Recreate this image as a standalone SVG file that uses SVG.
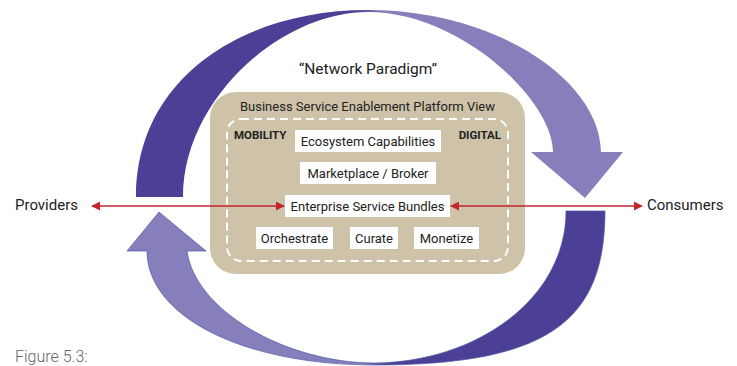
<svg xmlns="http://www.w3.org/2000/svg" width="737" height="366" viewBox="0 0 737 366">
  <defs>
    <linearGradient id="gTop" gradientUnits="userSpaceOnUse" x1="355" y1="0" x2="385" y2="0">
      <stop offset="0" stop-color="#4b3f96"/>
      <stop offset="1" stop-color="#867fbb"/>
    </linearGradient>
    <linearGradient id="gBot" gradientUnits="userSpaceOnUse" x1="362" y1="0" x2="392" y2="0">
      <stop offset="0" stop-color="#867fbb"/>
      <stop offset="1" stop-color="#4b3f96"/>
    </linearGradient>
    <marker id="ah" viewBox="0 0 10 10" refX="9" refY="5" markerWidth="9" markerHeight="9" markerUnits="userSpaceOnUse" orient="auto-start-reverse">
      <path d="M0,0 L10,5 L0,10 Z" fill="#c1272d"/>
    </marker>
    <style>
      text { font-family: Roboto, "Liberation Sans", Arial, sans-serif; fill: #222; }
      .box { fill: #ffffff; }
      .lbl { font-size: 13px; text-anchor: middle; }
      .side { font-size: 15px; }
      .cap { font-size: 11.5px; font-weight: bold; }
      .conn { stroke: #c1272d; stroke-width: 1.3; fill: none; }
    </style>
  </defs>

  <g id="cycle-arrows">
    <path id="top-arrow" fill="url(#gTop)" d="M136,197 C136,80 240,10 368,10 C496,10 600,80 601,152 L623,152 L585,198 L531,152 L553,152 C553,100 460,12 368,12 C280,12 183,100 183,197 Z"/>
    <path id="bottom-arrow" fill="url(#gBot)" stroke="#4a5aa6" stroke-width="0.7" d="M605,211 C605,320 550,365 375,365 C240,365 147,315 147,251 L127,251 L159,212 L206,251 L187,251 C195,310 285,363 375,363 C475,362 566,300 566,211 Z"/>
  </g>

  <text id="paradigm" x="368" y="74" font-size="15.5" text-anchor="middle">“Network Paradigm”</text>

  <g id="platform">
    <rect x="210" y="92" width="315" height="182" rx="26" fill="#cec2a8"/>
    <rect x="227" y="119" width="281" height="142" rx="14" fill="none" stroke="#ffffff" stroke-width="2" stroke-dasharray="8 5"/>
    <text class="lbl" x="367.5" y="111">Business Service Enablement Platform View</text>
    <text class="cap" x="234" y="139">MOBILITY</text>
    <text class="cap" x="501" y="139" text-anchor="end">DIGITAL</text>
  </g>

  <g id="ecosystem">
    <rect class="box" x="295" y="130" width="146" height="22"/>
    <text class="lbl" x="368" y="146">Ecosystem Capabilities</text>
  </g>
  <g id="marketplace">
    <rect class="box" x="300" y="162" width="136" height="22"/>
    <text class="lbl" x="368" y="178">Marketplace / Broker</text>
  </g>
  <g id="bundles">
    <rect class="box" x="285" y="195" width="165" height="22"/>
    <text class="lbl" x="367.5" y="211">Enterprise Service Bundles</text>
  </g>
  <g id="orchestrate">
    <rect class="box" x="256" y="227" width="77" height="22"/>
    <text class="lbl" x="294.5" y="243">Orchestrate</text>
  </g>
  <g id="curate">
    <rect class="box" x="350" y="227" width="48" height="22"/>
    <text class="lbl" x="374" y="243">Curate</text>
  </g>
  <g id="monetize">
    <rect class="box" x="414" y="227" width="65" height="22"/>
    <text class="lbl" x="446.5" y="243">Monetize</text>
  </g>

  <g id="providers">
    <text class="side" x="15" y="210">Providers</text>
  </g>
  <g id="consumers">
    <text class="side" x="647" y="210">Consumers</text>
  </g>

  <g id="connectors">
    <line class="conn" x1="92" y1="206" x2="284" y2="206" marker-start="url(#ah)" marker-end="url(#ah)"/>
    <line class="conn" x1="451" y1="206" x2="642" y2="206" marker-start="url(#ah)" marker-end="url(#ah)"/>
  </g>

  <text id="caption" x="15" y="362" font-size="16" font-weight="300" style="fill:#666">Figure 5.3:</text>
</svg>
